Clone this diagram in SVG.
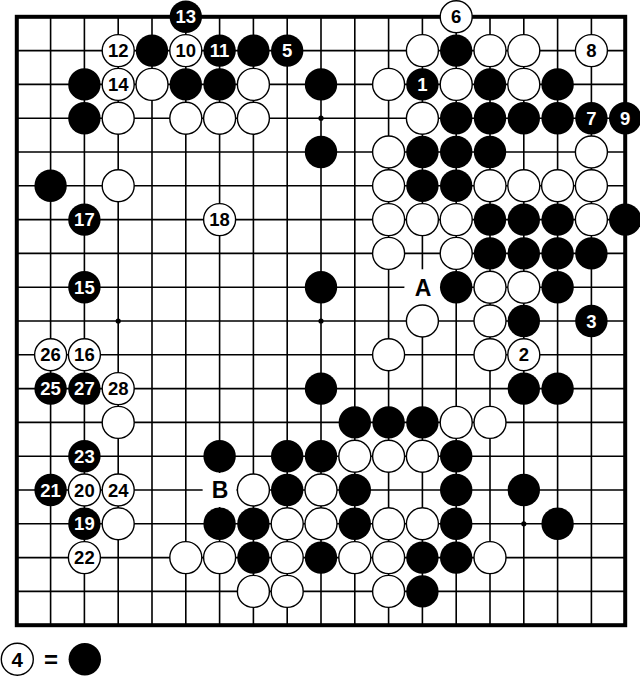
<svg xmlns="http://www.w3.org/2000/svg" width="640" height="684" viewBox="0 0 640 684">
<style>
.grid{fill:none;stroke:#000;stroke-width:1.6}
.border{fill:none;stroke:#000;stroke-width:4}
.b{fill:#000}
.w{fill:#fff;stroke:#000;stroke-width:1.4}
.hoshi{fill:#000}
text{font-family:"Liberation Sans",Arial,sans-serif;font-weight:bold;text-anchor:middle}
.nb{fill:#fff;font-size:18.5px}
.nw{fill:#000;font-size:18.5px}
.lab{fill:#000;font-size:23px}
</style>
<defs>
<circle id="B" r="16.2" class="b"/>
<circle id="W" r="16" class="w"/>
</defs>
<rect width="640" height="684" fill="#fff"/>
<g id="board">
<path class="grid" d="M50.6 16.8V625.2M84.4 16.8V625.2M118.2 16.8V625.2M152 16.8V625.2M185.8 16.8V625.2M219.6 16.8V625.2M253.4 16.8V625.2M287.2 16.8V625.2M321 16.8V625.2M354.8 16.8V625.2M388.6 16.8V625.2M422.4 16.8V625.2M456.2 16.8V625.2M490 16.8V625.2M523.8 16.8V625.2M557.6 16.8V625.2M591.4 16.8V625.2M16.8 50.6H625.2M16.8 84.4H625.2M16.8 118.2H625.2M16.8 152H625.2M16.8 185.8H625.2M16.8 219.6H625.2M16.8 253.4H625.2M16.8 287.2H625.2M16.8 321H625.2M16.8 354.8H625.2M16.8 388.6H625.2M16.8 422.4H625.2M16.8 456.2H625.2M16.8 490H625.2M16.8 523.8H625.2M16.8 557.6H625.2M16.8 591.4H625.2"/>
<rect class="border" x="16.8" y="16.8" width="608.4" height="608.4"/>
<g class="hoshi">
<circle cx="118.2" cy="118.2" r="2.6"/><circle cx="321" cy="118.2" r="2.6"/><circle cx="523.8" cy="118.2" r="2.6"/>
<circle cx="118.2" cy="321" r="2.6"/><circle cx="321" cy="321" r="2.6"/><circle cx="523.8" cy="321" r="2.6"/>
<circle cx="118.2" cy="523.8" r="2.6"/><circle cx="321" cy="523.8" r="2.6"/><circle cx="523.8" cy="523.8" r="2.6"/>
</g>
</g>
<g id="label-A"><circle cx="422.4" cy="287.2" r="18" fill="#fff"/><text class="lab" x="423" y="295.5">A</text></g>
<g id="label-B"><circle cx="219.6" cy="490" r="17" fill="#fff"/><text class="lab" x="220" y="498.3">B</text></g>
<g id="stones">
<!-- row 0 -->
<g id="m13"><use href="#B" x="185.8" y="16.8"/><text class="nb" x="185.8" y="23.4">13</text></g>
<g id="m6"><use href="#W" x="456.2" y="16.8"/><text class="nw" x="456.2" y="23.4">6</text></g>
<!-- row 1 -->
<g id="m12"><use href="#W" x="118.2" y="50.6"/><text class="nw" x="118.2" y="57.2">12</text></g>
<use href="#B" x="152" y="50.6"/>
<g id="m10"><use href="#W" x="185.8" y="50.6"/><text class="nw" x="185.8" y="57.2">10</text></g>
<g id="m11"><use href="#B" x="219.6" y="50.6"/><text class="nb" x="219.6" y="57.2">11</text></g>
<use href="#B" x="253.4" y="50.6"/>
<g id="m5"><use href="#B" x="287.2" y="50.6"/><text class="nb" x="287.2" y="57.2">5</text></g>
<use href="#W" x="422.4" y="50.6"/>
<use href="#B" x="456.2" y="50.6"/>
<use href="#W" x="490" y="50.6"/>
<use href="#W" x="523.8" y="50.6"/>
<g id="m8"><use href="#W" x="591.4" y="50.6"/><text class="nw" x="591.4" y="57.2">8</text></g>
<!-- row 2 -->
<use href="#B" x="84.4" y="84.4"/>
<g id="m14"><use href="#W" x="118.2" y="84.4"/><text class="nw" x="118.2" y="91">14</text></g>
<use href="#W" x="152" y="84.4"/>
<use href="#B" x="185.8" y="84.4"/>
<use href="#B" x="219.6" y="84.4"/>
<use href="#W" x="253.4" y="84.4"/>
<use href="#B" x="321" y="84.4"/>
<use href="#W" x="388.6" y="84.4"/>
<g id="m1"><use href="#B" x="422.4" y="84.4"/><text class="nb" x="422.4" y="91">1</text></g>
<use href="#W" x="456.2" y="84.4"/>
<use href="#B" x="490" y="84.4"/>
<use href="#W" x="523.8" y="84.4"/>
<use href="#B" x="557.6" y="84.4"/>
<!-- row 3 -->
<use href="#B" x="84.4" y="118.2"/>
<use href="#W" x="118.2" y="118.2"/>
<use href="#W" x="185.8" y="118.2"/>
<use href="#W" x="219.6" y="118.2"/>
<use href="#W" x="253.4" y="118.2"/>
<use href="#W" x="422.4" y="118.2"/>
<use href="#B" x="456.2" y="118.2"/>
<use href="#B" x="490" y="118.2"/>
<use href="#B" x="523.8" y="118.2"/>
<use href="#B" x="557.6" y="118.2"/>
<g id="m7"><use href="#B" x="591.4" y="118.2"/><text class="nb" x="591.4" y="124.8">7</text></g>
<g id="m9"><use href="#B" x="625.2" y="118.2"/><text class="nb" x="625.2" y="124.8">9</text></g>
<!-- row 4 -->
<use href="#B" x="321" y="152"/>
<use href="#W" x="388.6" y="152"/>
<use href="#B" x="422.4" y="152"/>
<use href="#B" x="456.2" y="152"/>
<use href="#B" x="490" y="152"/>
<use href="#W" x="591.4" y="152"/>
<!-- row 5 -->
<use href="#B" x="50.6" y="185.8"/>
<use href="#W" x="118.2" y="185.8"/>
<use href="#W" x="388.6" y="185.8"/>
<use href="#B" x="422.4" y="185.8"/>
<use href="#B" x="456.2" y="185.8"/>
<use href="#W" x="490" y="185.8"/>
<use href="#W" x="523.8" y="185.8"/>
<use href="#W" x="557.6" y="185.8"/>
<use href="#W" x="591.4" y="185.8"/>
<!-- row 6 -->
<g id="m17"><use href="#B" x="84.4" y="219.6"/><text class="nb" x="84.4" y="226.2">17</text></g>
<g id="m18"><use href="#W" x="219.6" y="219.6"/><text class="nw" x="219.6" y="226.2">18</text></g>
<use href="#W" x="388.6" y="219.6"/>
<use href="#W" x="422.4" y="219.6"/>
<use href="#W" x="456.2" y="219.6"/>
<use href="#B" x="490" y="219.6"/>
<use href="#B" x="523.8" y="219.6"/>
<use href="#B" x="557.6" y="219.6"/>
<use href="#W" x="591.4" y="219.6"/>
<use href="#B" x="625.2" y="219.6"/>
<!-- row 7 -->
<use href="#W" x="388.6" y="253.4"/>
<use href="#W" x="456.2" y="253.4"/>
<use href="#B" x="490" y="253.4"/>
<use href="#B" x="523.8" y="253.4"/>
<use href="#B" x="557.6" y="253.4"/>
<use href="#B" x="591.4" y="253.4"/>
<!-- row 8 -->
<g id="m15"><use href="#B" x="84.4" y="287.2"/><text class="nb" x="84.4" y="293.8">15</text></g>
<use href="#B" x="321" y="287.2"/>
<use href="#B" x="456.2" y="287.2"/>
<use href="#W" x="490" y="287.2"/>
<use href="#W" x="523.8" y="287.2"/>
<use href="#B" x="557.6" y="287.2"/>
<!-- row 9 -->
<use href="#W" x="422.4" y="321"/>
<use href="#W" x="490" y="321"/>
<use href="#B" x="523.8" y="321"/>
<g id="m3"><use href="#B" x="591.4" y="321"/><text class="nb" x="591.4" y="327.6">3</text></g>
<!-- row 10 -->
<g id="m26"><use href="#W" x="50.6" y="354.8"/><text class="nw" x="50.6" y="361.4">26</text></g>
<g id="m16"><use href="#W" x="84.4" y="354.8"/><text class="nw" x="84.4" y="361.4">16</text></g>
<use href="#W" x="388.6" y="354.8"/>
<use href="#W" x="490" y="354.8"/>
<g id="m2"><use href="#W" x="523.8" y="354.8"/><text class="nw" x="523.8" y="361.4">2</text></g>
<!-- row 11 -->
<g id="m25"><use href="#B" x="50.6" y="388.6"/><text class="nb" x="50.6" y="395.2">25</text></g>
<g id="m27"><use href="#B" x="84.4" y="388.6"/><text class="nb" x="84.4" y="395.2">27</text></g>
<g id="m28"><use href="#W" x="118.2" y="388.6"/><text class="nw" x="118.2" y="395.2">28</text></g>
<use href="#B" x="321" y="388.6"/>
<use href="#B" x="523.8" y="388.6"/>
<use href="#B" x="557.6" y="388.6"/>
<!-- row 12 -->
<use href="#W" x="118.2" y="422.4"/>
<use href="#B" x="354.8" y="422.4"/>
<use href="#B" x="388.6" y="422.4"/>
<use href="#B" x="422.4" y="422.4"/>
<use href="#W" x="456.2" y="422.4"/>
<use href="#W" x="490" y="422.4"/>
<!-- row 13 -->
<g id="m23"><use href="#B" x="84.4" y="456.2"/><text class="nb" x="84.4" y="462.8">23</text></g>
<use href="#B" x="219.6" y="456.2"/>
<use href="#B" x="287.2" y="456.2"/>
<use href="#B" x="321" y="456.2"/>
<use href="#W" x="354.8" y="456.2"/>
<use href="#W" x="388.6" y="456.2"/>
<use href="#W" x="422.4" y="456.2"/>
<use href="#B" x="456.2" y="456.2"/>
<!-- row 14 -->
<g id="m21"><use href="#B" x="50.6" y="490"/><text class="nb" x="50.6" y="496.6">21</text></g>
<g id="m20"><use href="#W" x="84.4" y="490"/><text class="nw" x="84.4" y="496.6">20</text></g>
<g id="m24"><use href="#W" x="118.2" y="490"/><text class="nw" x="118.2" y="496.6">24</text></g>
<use href="#W" x="253.4" y="490"/>
<use href="#B" x="287.2" y="490"/>
<use href="#W" x="321" y="490"/>
<use href="#B" x="354.8" y="490"/>
<use href="#B" x="456.2" y="490"/>
<use href="#B" x="523.8" y="490"/>
<!-- row 15 -->
<g id="m19"><use href="#B" x="84.4" y="523.8"/><text class="nb" x="84.4" y="530.4">19</text></g>
<use href="#W" x="118.2" y="523.8"/>
<use href="#B" x="219.6" y="523.8"/>
<use href="#B" x="253.4" y="523.8"/>
<use href="#W" x="287.2" y="523.8"/>
<use href="#W" x="321" y="523.8"/>
<use href="#B" x="354.8" y="523.8"/>
<use href="#W" x="388.6" y="523.8"/>
<use href="#W" x="422.4" y="523.8"/>
<use href="#B" x="456.2" y="523.8"/>
<use href="#B" x="557.6" y="523.8"/>
<!-- row 16 -->
<g id="m22"><use href="#W" x="84.4" y="557.6"/><text class="nw" x="84.4" y="564.2">22</text></g>
<use href="#W" x="185.8" y="557.6"/>
<use href="#W" x="219.6" y="557.6"/>
<use href="#B" x="253.4" y="557.6"/>
<use href="#W" x="287.2" y="557.6"/>
<use href="#B" x="321" y="557.6"/>
<use href="#W" x="354.8" y="557.6"/>
<use href="#W" x="388.6" y="557.6"/>
<use href="#B" x="422.4" y="557.6"/>
<use href="#B" x="456.2" y="557.6"/>
<use href="#W" x="490" y="557.6"/>
<!-- row 17 -->
<use href="#W" x="253.4" y="591.4"/>
<use href="#W" x="287.2" y="591.4"/>
<use href="#W" x="388.6" y="591.4"/>
<use href="#B" x="422.4" y="591.4"/>
</g>
<g id="legend">
<use href="#W" x="17.3" y="659.2"/><text class="nw" x="17.3" y="666.6" style="font-size:20.5px">4</text>
<text x="51" y="667.5" style="font-size:24px;fill:#000">=</text>
<use href="#B" x="84.8" y="659.2"/>
</g>
</svg>
